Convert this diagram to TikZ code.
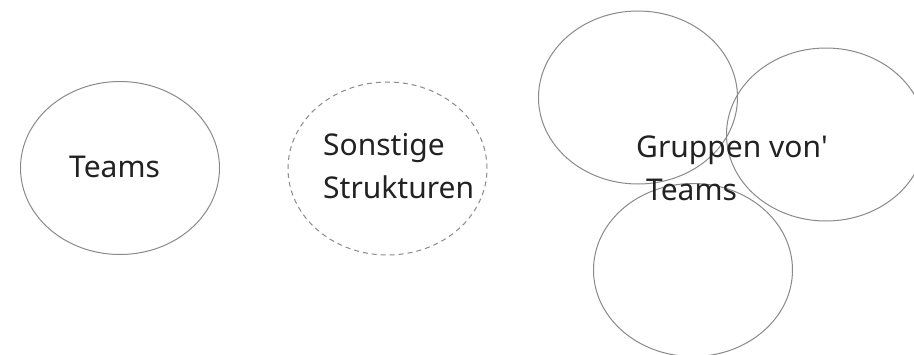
\documentclass[tikz,border=0pt]{standalone}
\usepackage{fontspec}
\setmainfont{Noto Sans}
\usetikzlibrary{shapes.geometric}
\definecolor{linegray}{HTML}{8A8A8A}
\definecolor{txt}{HTML}{222222}
\tikzset{
  blob/.style={ellipse, draw=linegray, line width=1pt, minimum width=199pt, minimum height=173pt, inner sep=0pt},
  dashblob/.style={blob, dash pattern=on 5pt off 4pt},
  lbl/.style={anchor=base west, inner sep=0pt, text=txt, font=\fontsize{30}{43}\selectfont}
}
\begin{document}
\begin{tikzpicture}[x=1pt,y=-1pt]
\useasboundingbox (0,0) rectangle (914,354);
\clip (0,0) rectangle (914,354);
\fill[white] (0,0) rectangle (914,354);
\node[blob] (teams) at (120,168) {};
\node[dashblob] (sonst) at (387.5,168.5) {};
\node[blob] (g1) at (638,97.5) {};
\node[blob] (g2) at (826,134.5) {};
\node[blob] (g3) at (693,270) {};
\node[lbl] (tteams) at (69,177) {Teams};
\node[lbl] (ts1) at (323,155) {Sonstige};
\node[lbl] (ts2) at (323,198) {Strukturen};
\node[lbl] (tg1) at (636,157) {Gruppen von\textquotesingle};
\node[lbl] (tg2) at (646,200) {Teams};
\end{tikzpicture}
\end{document}
